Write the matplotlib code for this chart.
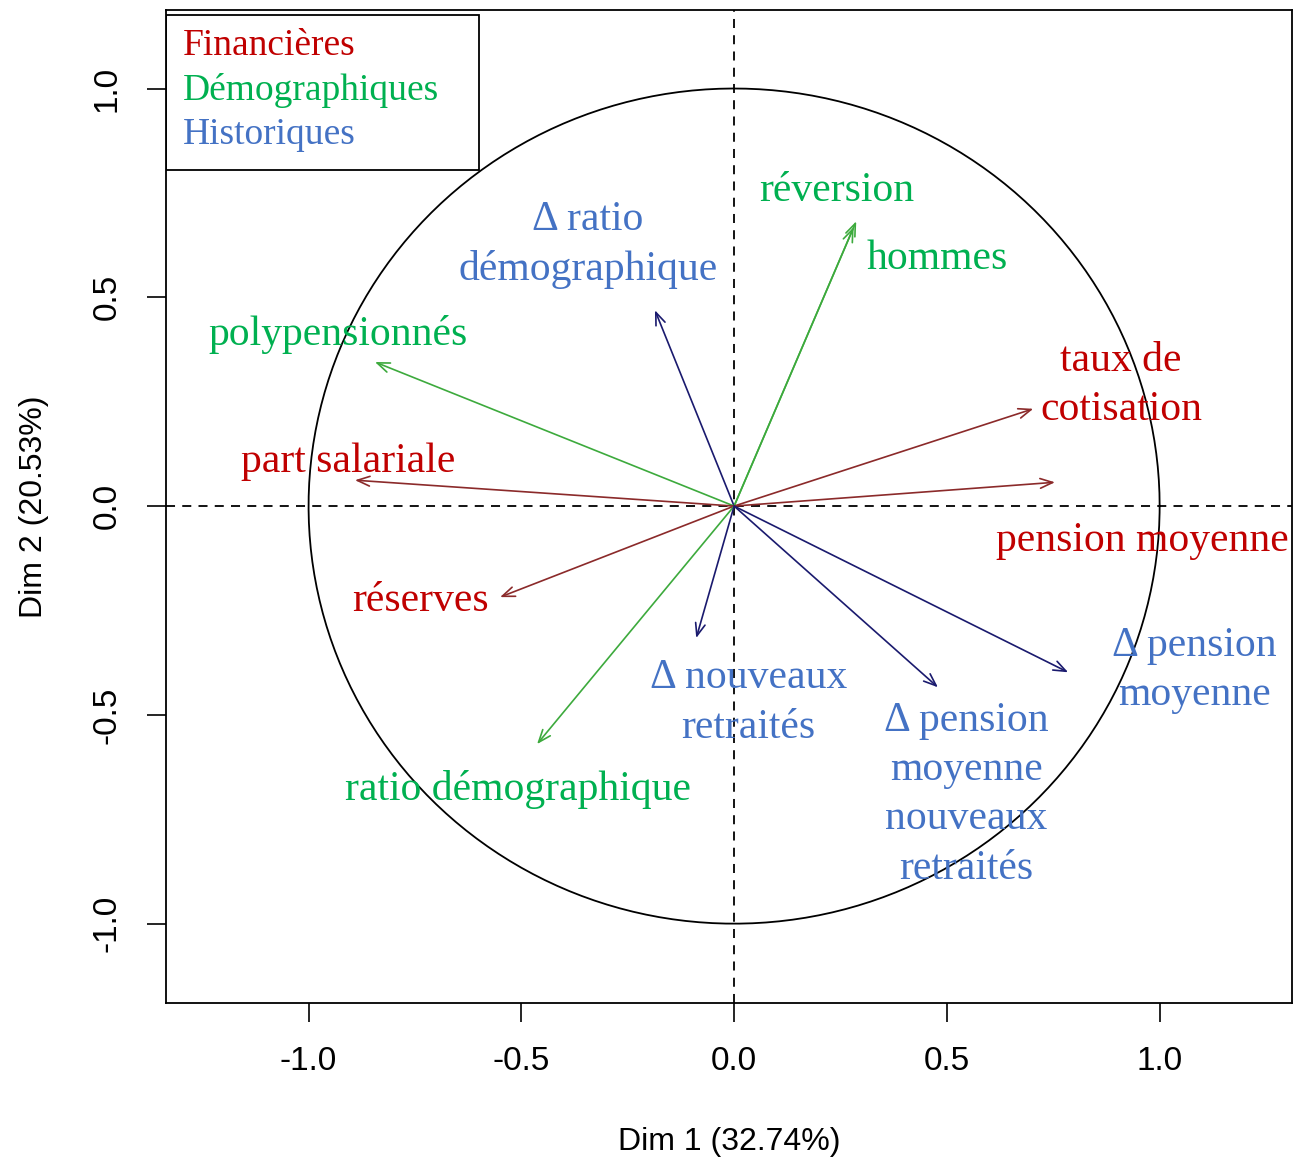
"""Correlation circle (PCA variables factor map), Dim 1 vs Dim 2."""

import matplotlib
matplotlib.use('Agg')
import matplotlib.pyplot as plt
import numpy as np

# variable coordinates on Dim 1 / Dim 2
variables = [
    'polypensionnés', 'part salariale', 'réserves', 'ratio démographique',
    'Δ nouveaux retraités', 'Δ ratio démographique', 'réversion', 'hommes',
    'taux de cotisation', 'pension moyenne', 'Δ pension moyenne',
    'Δ pension moyenne nouveaux retraités',
]
groups = [
    'Démographiques', 'Financières', 'Financières', 'Démographiques',
    'Historiques', 'Historiques', 'Démographiques', 'Démographiques',
    'Financières', 'Financières', 'Historiques', 'Historiques',
]
dim1 = [-0.844, -0.891, -0.550, -0.463, -0.089, -0.186, 0.287, 0.281,
        0.703, 0.754, 0.785, 0.479]
dim2 = [0.345, 0.062, -0.218, -0.570, -0.316, 0.469, 0.682, 0.668,
        0.233, 0.057, -0.398, -0.434]

# label text and anchor (data coords of text centre)
label_text = [
    'polypensionnés', 'part salariale', 'réserves', 'ratio démographique',
    'Δ nouveaux\nretraités', 'Δ ratio\ndémographique', 'réversion', 'hommes',
    'taux de\ncotisation', 'pension moyenne', 'Δ pension\nmoyenne',
    'Δ pension\nmoyenne\nnouveaux\nretraités',
]
label_x = [-0.931, -0.906, -0.738, -0.508, 0.033, -0.343, 0.242, 0.477,
           0.909, 0.959, 1.081, 0.545]
label_y = [0.411, 0.105, -0.226, -0.679, -0.471, 0.626, 0.754, 0.593,
           0.290, -0.082, -0.393, -0.691]

legend_groups = ['Financières', 'Démographiques', 'Historiques']
text_colors = {'Financières': '#C00000', 'Démographiques': '#00B050',
               'Historiques': '#4472C4'}
arrow_colors = {'Financières': '#8B2A2A', 'Démographiques': '#3DAA3D',
                'Historiques': '#1A1A6E'}

SERIF = ['Liberation Serif', 'DejaVu Serif']
SANS = ['Liberation Sans', 'DejaVu Sans']

plt.rcParams['font.family'] = SANS

fig = plt.figure(figsize=(12.93, 11.61), dpi=100)
ax = fig.add_axes([166 / 1293, 1 - 1003 / 1161, (1292 - 166) / 1293, (1003 - 10) / 1161])
ax.set_xlim(-1.335, 1.311)
ax.set_ylim(-1.190, 1.188)

# unit circle and dashed axes
t = np.linspace(0, 2 * np.pi, 400)
ax.plot(np.cos(t), np.sin(t), color='black', lw=1.3)
ax.axhline(0, color='black', ls=(0, (5, 4)), lw=1.3)
ax.axvline(0, color='black', ls=(0, (5, 4)), lw=1.3)

for x, y, g in zip(dim1, dim2, groups):
    ax.annotate('', xy=(x, y), xytext=(0, 0),
                arrowprops=dict(arrowstyle='->,head_length=0.9,head_width=0.35',
                                color=arrow_colors[g], lw=1.2,
                                shrinkA=0, shrinkB=0))

for s, x, y, g in zip(label_text, label_x, label_y, groups):
    ax.text(x, y, s, color=text_colors[g], family=SERIF, fontsize=30,
            ha='center', va='center', linespacing=1.36)

# group legend in the top-left corner
leg_x0, leg_y0 = -1.335, 0.805
ax.add_patch(plt.Rectangle((leg_x0, leg_y0), 0.736, 0.37, fill=False,
                           edgecolor='black', lw=1.3, zorder=5))
for i, g in enumerate(legend_groups):
    ax.text(-1.295, 1.103 - i * 0.1066, g, color=text_colors[g], family=SERIF,
            fontsize=27, ha='left', va='center')

ticks = [-1.0, -0.5, 0.0, 0.5, 1.0]
ax.set_xticks(ticks)
ax.set_yticks(ticks)
ax.set_xticklabels([f'{v:.1f}' for v in ticks])
ax.set_yticklabels([f'{v:.1f}' for v in ticks], rotation=90, va='center')
ax.tick_params(length=14, width=1.2, labelsize=24, pad=17, colors='black')
for sp in ax.spines.values():
    sp.set_linewidth(1.3)
ax.set_xlabel('Dim 1 (32.74%)', fontsize=23, labelpad=36)
ax.set_ylabel('Dim 2 (20.53%)', fontsize=23, labelpad=31)

fig.savefig('out.png', dpi=100)
